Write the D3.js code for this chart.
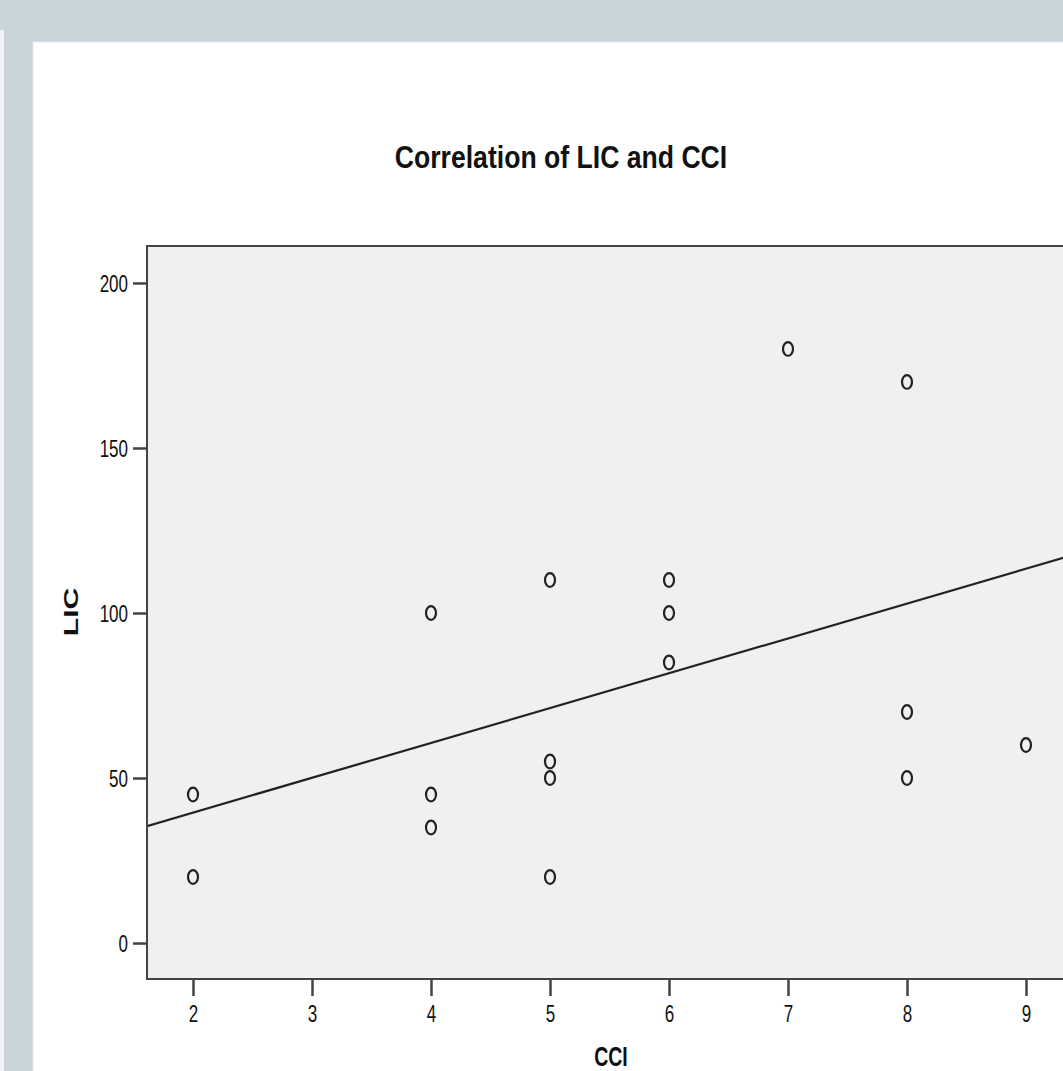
<!DOCTYPE html>
<html>
<head>
<meta charset="utf-8">
<script src="https://cdn.jsdelivr.net/npm/d3@7"></script>
<style>
    html, body { margin: 0; padding: 0; background: #ffffff; }
    svg { display: block; font-family: "Liberation Sans", Arial, sans-serif; }
</style>
</head>
<body>
<div id="chart"></div>
<script>
// CCI score per patient and the matching LIC value
const cciValues = [2, 2, 4, 4, 4, 5, 5, 5, 5, 6, 6, 6, 7, 8, 8, 8, 9];
const licValues = [45, 20, 100, 45, 35, 110, 55, 50, 20, 110, 100, 85, 180, 170, 70, 50, 60];
const xTicks = [2, 3, 4, 5, 6, 7, 8, 9];
const yTicks = [0, 50, 100, 150, 200];

const chartTitle = 'Correlation of LIC and CCI';
const xLabel = 'CCI';
const yLabel = 'LIC';

const W = 1063, H = 1071;
const plot = { left: 147, top: 246, right: 1072, bottom: 979 };

const svg = d3.select('#chart')
    .append('svg')
    .attr('width', W)
    .attr('height', H);

// page frame: grey band on top and left, white sheet
svg.append('rect').attr('width', W).attr('height', H).attr('fill', '#c8d3da');
svg.append('rect').attr('x', 0).attr('y', 30).attr('width', 4).attr('height', H).attr('fill', '#eef2f5');
svg.append('rect').attr('x', 33).attr('y', 42).attr('width', W).attr('height', H).attr('fill', '#ffffff')
    .attr('stroke', '#e4eaee').attr('stroke-width', 1);

const x = d3.scaleLinear().domain([1.6134, 9.3866]).range([plot.left, plot.right]);
const y = d3.scaleLinear().domain([-10.9, 211.2]).range([plot.bottom, plot.top]);

svg.append('rect')
    .attr('x', plot.left)
    .attr('y', plot.top)
    .attr('width', plot.right - plot.left)
    .attr('height', plot.bottom - plot.top)
    .attr('fill', '#f0f0f0');

// least squares fit line
const mx = d3.mean(cciValues), my = d3.mean(licValues);
const sxy = d3.sum(cciValues, (v, i) => (v - mx) * (licValues[i] - my));
const sxx = d3.sum(cciValues, v => (v - mx) * (v - mx));
const slope = sxy / sxx;
const intercept = my - slope * mx;

svg.append('clipPath').attr('id', 'plot-clip')
    .append('rect')
    .attr('x', plot.left).attr('y', plot.top)
    .attr('width', plot.right - plot.left).attr('height', plot.bottom - plot.top);

const dom = x.domain();
svg.append('line')
    .attr('clip-path', 'url(#plot-clip)')
    .attr('x1', x(dom[0])).attr('y1', y(intercept + slope * dom[0]))
    .attr('x2', x(dom[1])).attr('y2', y(intercept + slope * dom[1]))
    .attr('stroke', '#222')
    .attr('stroke-width', 2.2);

svg.selectAll('.pt')
    .data(cciValues.map((c, i) => ({ c, l: licValues[i] })))
    .enter()
    .append('ellipse')
    .attr('class', 'pt')
    .attr('cx', d => x(d.c))
    .attr('cy', d => y(d.l))
    .attr('rx', 5)
    .attr('ry', 6.8)
    .attr('fill', 'none')
    .attr('stroke', '#222')
    .attr('stroke-width', 2.2);

// axes
const yAxis = svg.append('g')
    .attr('transform', `translate(${plot.left},0)`)
    .call(d3.axisLeft(y).tickValues(yTicks).tickSize(14).tickPadding(5));
const xAxis = svg.append('g')
    .attr('transform', `translate(0,${plot.bottom})`)
    .call(d3.axisBottom(x).tickValues(xTicks).tickSize(17));

[xAxis, yAxis].forEach(g => {
    g.select('.domain').remove();
    g.selectAll('line').attr('stroke', '#444').attr('stroke-width', 2.5);
    g.selectAll('text')
        .attr('fill', '#111')
        .style('font-size', '17px')
        .style('font-family', '"Liberation Sans", Arial, sans-serif');
});
yAxis.selectAll('text').attr('dy', '0.36em').attr('transform', 'scale(1,1.4)');
xAxis.selectAll('text').attr('dy', null).attr('y', 43 / 1.4).attr('transform', 'scale(1,1.4)');

// plot border
svg.append('rect')
    .attr('x', plot.left)
    .attr('y', plot.top)
    .attr('width', plot.right - plot.left)
    .attr('height', plot.bottom - plot.top)
    .attr('fill', 'none')
    .attr('stroke', '#444')
    .attr('stroke-width', 2);

// titles
svg.append('text')
    .attr('transform', 'translate(561,168) scale(1,1.2)')
    .attr('text-anchor', 'middle')
    .style('font-size', '26.6px')
    .style('font-weight', 'bold')
    .attr('fill', '#111')
    .text(chartTitle);

svg.append('text')
    .attr('transform', 'translate(611,1066) scale(1,1.42)')
    .attr('text-anchor', 'middle')
    .style('font-size', '19.5px')
    .style('font-weight', 'bold')
    .attr('fill', '#111')
    .text(xLabel);

svg.append('text')
    .attr('transform', 'translate(78,612) rotate(-90) scale(1.47,1)')
    .attr('text-anchor', 'middle')
    .style('font-size', '20.5px')
    .style('font-weight', 'bold')
    .attr('fill', '#111')
    .text(yLabel);
</script>
</body>
</html>
